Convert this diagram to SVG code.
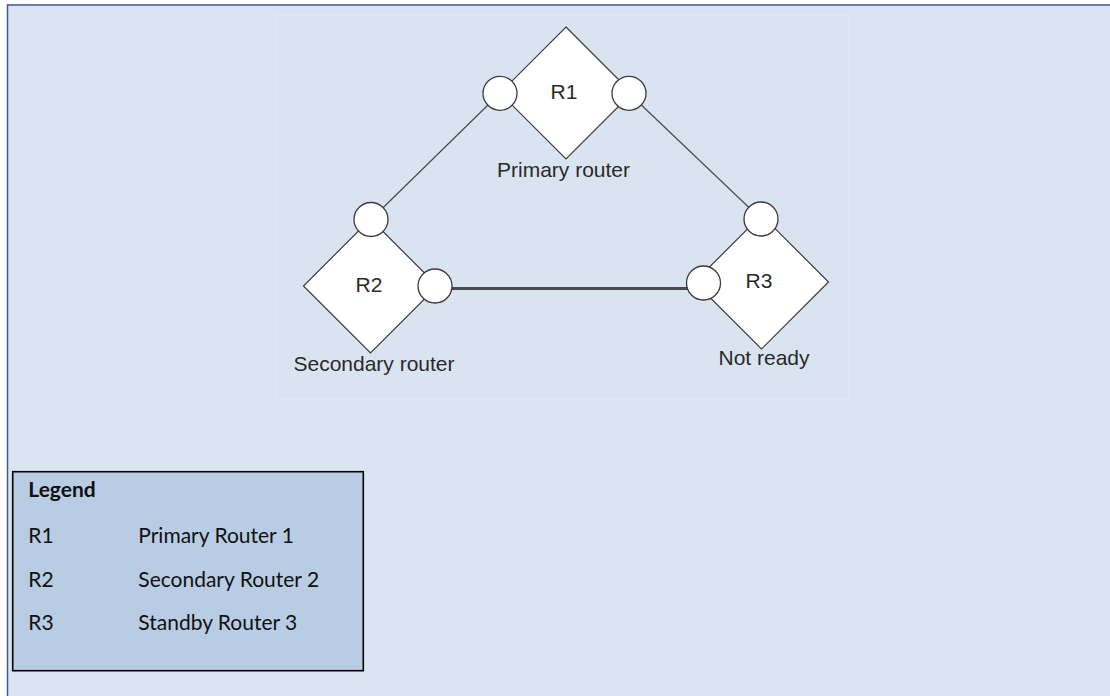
<svg xmlns="http://www.w3.org/2000/svg" width="1110" height="696" viewBox="0 0 1110 696">
  <style>
    .node-shape { fill: #ffffff; stroke: #3a3a3a; stroke-width: 1.2; }
    .port { fill: #ffffff; stroke: #3a3a3a; stroke-width: 1.3; }
    .lbl { font-family: "Liberation Sans", Arial, sans-serif; font-size: 21px; fill: #2a2a2a; text-anchor: middle; }
    .link { stroke: #4a4a4a; stroke-width: 1.2; fill: none; }
    .link-thick { stroke: #4a4a4a; stroke-width: 3; fill: none; }
    .leg { font-family: Lato, "Noto Sans", sans-serif; font-size: 21px; fill: #111111; }
  </style>
  <rect x="0" y="0" width="1110" height="696" fill="#ffffff"/>
  <rect x="7.5" y="5" width="1110" height="700" fill="#dbe5f1" stroke="#3a5d92" stroke-width="1.5"/>
  <rect x="276" y="15" width="573" height="384" fill="#dae4f0" stroke="#e2eaf5" stroke-width="1"/>

  <g id="connectors">
    <line class="link" x1="500" y1="93.3" x2="371" y2="219.5"/>
    <line class="link" x1="629" y1="93.3" x2="761" y2="219"/>
    <line class="link-thick" x1="435" y1="288.5" x2="703.5" y2="288.5"/>
  </g>

  <g id="R1">
    <polygon class="node-shape" points="566,27 632,93 566,159 500,93"/>
    <circle class="port" cx="500" cy="93.3" r="17"/>
    <circle class="port" cx="629" cy="93.3" r="17"/>
    <text class="lbl" x="564" y="99">R1</text>
    <text class="lbl" x="563.5" y="176.5">Primary router</text>
  </g>

  <g id="R2">
    <polygon class="node-shape" points="370.5,219 437.5,286 370.5,353 303.5,286"/>
    <circle class="port" cx="371" cy="219.5" r="17"/>
    <circle class="port" cx="435" cy="286" r="17"/>
    <text class="lbl" x="369" y="292">R2</text>
    <text class="lbl" x="374" y="371">Secondary router</text>
  </g>

  <g id="R3">
    <polygon class="node-shape" points="761.5,215 828.5,282 761.5,349 694.5,282"/>
    <circle class="port" cx="761" cy="219" r="17"/>
    <circle class="port" cx="703.5" cy="283" r="17"/>
    <text class="lbl" x="759" y="288.3">R3</text>
    <text class="lbl" x="764" y="365">Not ready</text>
  </g>

  <g id="legend">
    <rect x="12.7" y="471.7" width="350.6" height="199" fill="#b8cce4" stroke="#000000" stroke-width="1.6"/>
    <text class="leg" x="28.3" y="496.7" font-weight="bold" font-size="24px">Legend</text>
    <text class="leg" x="28.3" y="543.3">R1</text>
    <text class="leg" x="138.3" y="543.3">Primary Router 1</text>
    <text class="leg" x="28.3" y="586.5">R2</text>
    <text class="leg" x="138.3" y="586.5">Secondary Router 2</text>
    <text class="leg" x="28.3" y="630">R3</text>
    <text class="leg" x="138.3" y="630">Standby Router 3</text>
  </g>
</svg>
